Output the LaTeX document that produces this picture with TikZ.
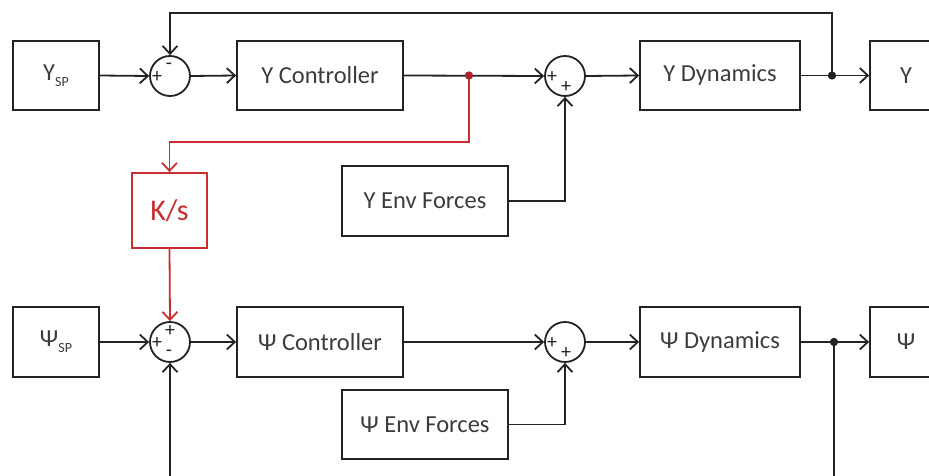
\documentclass[tikz,border=0pt]{standalone}
\usepackage{fontspec}
\setmainfont{Carlito}
\usetikzlibrary{arrows.meta}
\definecolor{ln}{RGB}{35,35,35}
\definecolor{rd}{RGB}{200,45,50}
\definecolor{tx}{RGB}{60,60,60}
\begin{document}
\begin{tikzpicture}[x=1pt,y=-1pt,
  blk/.style={draw=ln, line width=1.8pt, text=tx, inner sep=0pt, font=\fontsize{24.5}{28}\selectfont},
  sumc/.style={circle, draw=ln, line width=1.8pt, minimum size=40pt, inner sep=0pt},
  sgn/.style={text=ln, inner sep=0pt, font=\fontsize{20}{20}\selectfont},
  arr/.style={draw=ln, line width=1.8pt, -{Straight Barb[length=8pt,width=15pt,line width=1.8pt]}},
  rarr/.style={draw=rd, line width=1.8pt, -{Straight Barb[length=8pt,width=15pt,line width=1.8pt]}},
  dotb/.style={circle, fill=ln, minimum size=8pt, inner sep=0pt},
  dotr/.style={circle, fill=rd!85!black, minimum size=8pt, inner sep=0pt}]
\useasboundingbox (0,0) rectangle (929,476);
\clip (0,0) rectangle (929,476);
% top row
\node[blk, minimum width=86pt, minimum height=69pt] (ysp) at (56,75.5) {Y\raisebox{-0.5ex}{\fontsize{14}{14}\selectfont SP}};
\node[sumc] (s1) at (170,76) {};
\node[blk, minimum width=166pt, minimum height=69pt] (yc) at (320,75.5) {Y Controller};
\node[sumc] (s2) at (565,76) {};
\node[blk, minimum width=160pt, minimum height=69pt] (yd) at (720,75.5) {Y Dynamics};
\node[blk, minimum width=72pt, minimum height=69pt] (yo) at (906,75.5) {Y};
\node[blk, minimum width=166pt, minimum height=70pt] (ye) at (425,201) {Y Env Forces};
\node[blk, draw=rd, text=rd, minimum width=75pt, minimum height=75pt, font=\fontsize{30}{34}\selectfont] (ks) at (169.5,210.5) {K/s};
\node[dotr] (rd1) at (469,75.5) {};
\node[dotb] (fb1) at (832,75.5) {};
\coordinate (t1) at (832,13);
\coordinate (r1) at (469,142);
% signs top
\node[sgn] at (157,77) {+};
\node[sgn] at (169,66) {-};
\node[sgn] at (552,77) {+};
\node[sgn] at (566,87) {+};
% bottom row
\node[blk, minimum width=86pt, minimum height=70pt] (psp) at (56,342) {Ψ\raisebox{-0.5ex}{\fontsize{14}{14}\selectfont SP}};
\node[sumc] (s3) at (170,342) {};
\node[blk, minimum width=166pt, minimum height=70pt] (pc) at (320,342) {Ψ Controller};
\node[sumc] (s4) at (565,342) {};
\node[blk, minimum width=160pt, minimum height=70pt] (pd) at (720,342) {Ψ Dynamics};
\node[blk, minimum width=72pt, minimum height=70pt] (po) at (906,342) {Ψ};
\node[blk, minimum width=166pt, minimum height=69pt] (pe) at (425,424.5) {Ψ Env Forces};
\node[dotb] (fb2) at (834,342) {};
\coordinate (b2) at (834,490);
% signs bottom
\node[sgn] at (157,343) {+};
\node[sgn] at (170,330.5) {+};
\node[sgn] at (169,353) {-};
\node[sgn] at (552,343) {+};
\node[sgn] at (566,353) {+};
% connectors top
\draw[arr] (ysp.east) -- (s1.west);
\draw[arr] (s1.east) -- (yc.west);
\draw[arr] (yc.east) -- (s2.west);
\draw[arr] (s2.east) -- (yd.west);
\draw[arr] (yd.east) -- (yo.west);
\draw[arr] (fb1.center) -- (t1) -| (s1.north);
\draw[arr] (ye.east) -| (s2.south);
\draw[rarr] (rd1.center) -- (r1) -| (ks.north);
\draw[rarr] (ks.south) -- (s3.north);
% connectors bottom
\draw[arr] (psp.east) -- (s3.west);
\draw[arr] (s3.east) -- (pc.west);
\draw[arr] (pc.east) -- (s4.west);
\draw[arr] (s4.east) -- (pd.west);
\draw[arr] (pd.east) -- (po.west);
\draw[arr] (pe.east) -| (s4.south);
\draw[arr] (fb2.center) -- (b2) -| (s3.south);
\node[dotr] at (rd1) {};
\node[dotb] at (fb1) {};
\node[dotb] at (fb2) {};
\end{tikzpicture}
\end{document}
